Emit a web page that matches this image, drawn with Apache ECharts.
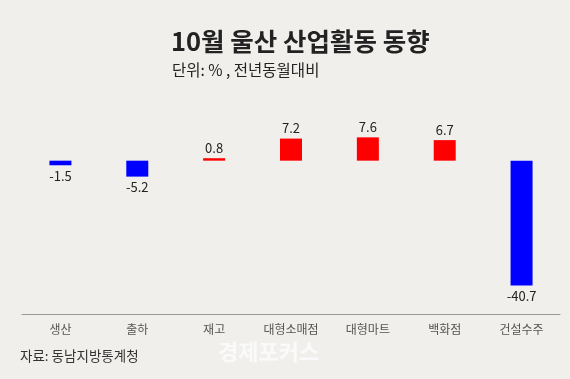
<!DOCTYPE html>
<html><head><meta charset="utf-8">
<script src="https://cdn.jsdelivr.net/npm/echarts@6/dist/echarts.min.js"></script>
<style>html,body{margin:0;padding:0;background:#f0efec;}#c{width:570px;height:379px;}</style>
</head><body><div id="c"></div>
<script>
const categories = ['생산','출하','재고','대형소매점','대형마트','백화점','건설수주'];
const values = [-1.5, -5.2, 0.8, 7.2, 7.6, 6.7, -40.7];
const titleText = '10월 울산 산업활동 동향';
const unitText = '단위: % , 전년동월대비';
const sourceText = '자료: 동남지방통계청';

const chart = echarts.init(document.getElementById('c'));
const font = '"Noto Sans CJK KR", "Noto Sans", sans-serif';
chart.setOption({
  backgroundColor: '#f0efec',
  animation: false,
  graphic: [
    {type:'text', left: 171, top: 29, style:{text: titleText, font: 'bold 25.5px ' + font, fill:'#222'}},
    {type:'text', left: 172, top: 62, style:{text: unitText, font: '15.5px ' + font, fill:'#222'}},
    {type:'text', left: 20, top: 349, style:{text: sourceText, font: '13.5px ' + font, fill:'#333'}},
    {type:'text', left: 218, top: 341, style:{text: '경제포커스', font: 'bold 22px ' + font, fill:'#fafafa'}}
  ],
  grid: {left: 22, right: 10, top: 130, bottom: 65},
  xAxis: {
    type:'category', data: categories,
    axisLine:{show:true, onZero:false, lineStyle:{color:'#999', width:1}},
    axisTick:{show:false},
    axisLabel:{color:'#555', fontSize:12, fontFamily: font, margin:9}
  },
  yAxis: {type:'value', min:-50, max:10, show:false, splitLine:{show:false}},
  series: [{
    type:'bar', barWidth: 22,
    data: values.map(v => ({
      value: v,
      itemStyle:{color: v < 0 ? '#0000ff' : '#ff0000'},
      label:{show:true, position: v < 0 ? 'bottom' : 'top', distance: 4}
    })),
    label:{color:'#222', fontSize:13, fontFamily: font}
  }]
});
</script></body></html>
